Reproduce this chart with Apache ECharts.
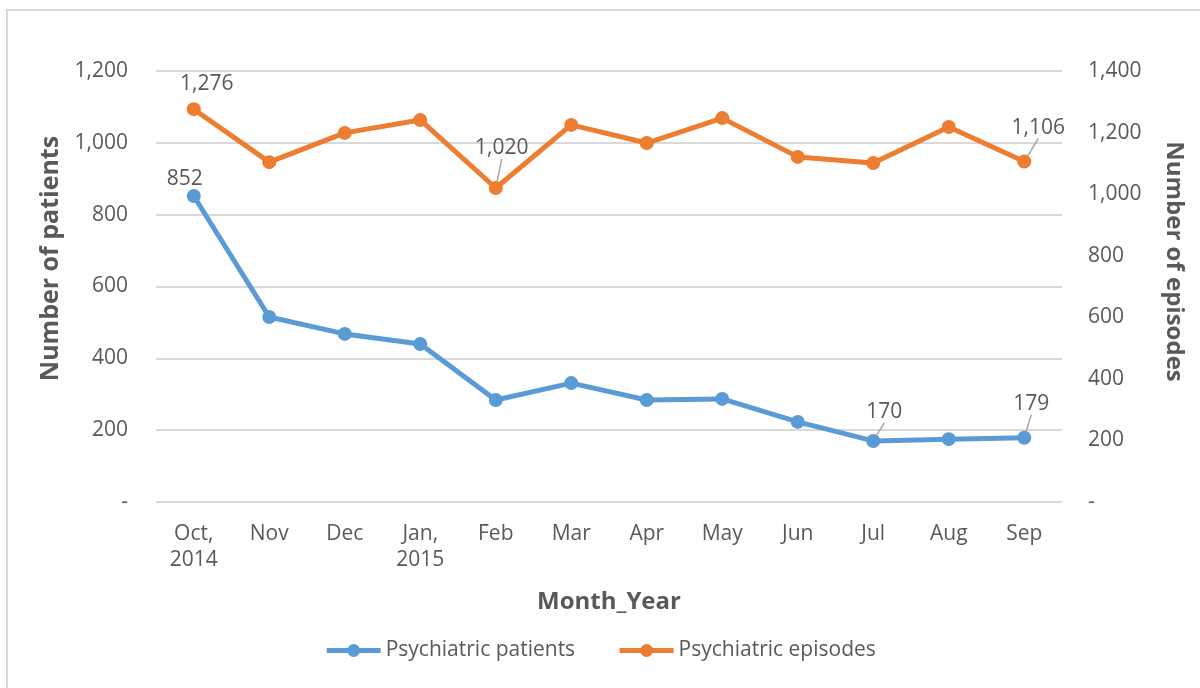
<!DOCTYPE html>
<html>
<head>
<meta charset="utf-8">
<script src="https://cdn.jsdelivr.net/npm/echarts@6/dist/echarts.min.js"></script>
<style>
  html, body { margin: 0; padding: 0; background: #fff; overflow: hidden; }
  #frame { position: absolute; left: 6px; top: 9px; width: 1300px; height: 800px; border: 2px solid #d9d9d9; box-sizing: border-box; }
  #chart { position: absolute; left: 0; top: 0; width: 1200px; height: 688px; }
</style>
</head>
<body>
<div id="frame"></div>
<div id="chart"></div>
<script>
// months
const categories = ['Oct,\n2014', 'Nov', 'Dec', 'Jan,\n2015', 'Feb', 'Mar', 'Apr', 'May', 'Jun', 'Jul', 'Aug', 'Sep'];
// values
const patients = [852, 515, 468, 440, 284, 331, 284, 287, 223, 170, 175, 179];
const episodes = [1276, 1104, 1199, 1241, 1020, 1225, 1166, 1247, 1121, 1101, 1218, 1106];
// which points carry a label: [dx, dy, leader line]
const patientLabels = { 0: [-9, 9, false], 9: [11, -3, true], 11: [7, -8, true] };
const episodeLabels = { 0: [13, 0, false], 4: [6, -14, true], 11: [14, -8, true] };

const textColor = '#595959';
const fontFamily = '"Open Sans", "Liberation Sans", sans-serif';

function fmt(v) {
    return v === 0 ? '-' : v.toLocaleString('en-US');
}

function buildData(values, labels) {
    return values.map(function (v, i) {
        const item = { value: v };
        if (labels[i]) {
            item.label = { show: true };
            item.labelLine = { show: labels[i][2] };
        }
        return item;
    });
}

function layoutFor(labels) {
    return function (params) {
        const d = labels[params.dataIndex];
        if (!d) return {};
        return { dx: d[0], dy: d[1] };
    };
}

const chart = echarts.init(document.getElementById('chart'));
chart.setOption({
    backgroundColor: 'transparent',
    textStyle: { fontFamily: fontFamily },
    grid: { left: 156, right: 138, top: 71, bottom: 186 },
    legend: {
        bottom: 22,
        left: 'center',
        itemWidth: 54,
        itemHeight: 16,
        itemGap: 42,
        lineStyle: { width: 5 },
        textStyle: { color: textColor, fontSize: 21, fontFamily: fontFamily },
        data: ['Psychiatric patients', 'Psychiatric episodes']
    },
    xAxis: {
        type: 'category',
        data: categories,
        boundaryGap: true,
        name: 'Month_Year',
        nameLocation: 'middle',
        nameGap: 88,
        nameTextStyle: { color: textColor, fontSize: 24, fontWeight: 'bold' },
        axisLine: { show: false },
        axisTick: { show: false },
        axisLabel: { color: textColor, fontSize: 21, margin: 19, lineHeight: 26, interval: 0 }
    },
    yAxis: [{
        type: 'value',
        min: 0,
        max: 1200,
        interval: 200,
        name: 'Number of patients',
        nameLocation: 'middle',
        nameGap: 93,
        nameRotate: 90,
        nameTextStyle: { color: textColor, fontSize: 25, fontWeight: 'bold', padding: [0, 0, 0, 56] },
        axisLine: { show: false },
        axisTick: { show: false },
        axisLabel: { color: textColor, fontSize: 21, margin: 28, formatter: fmt },
        splitLine: { lineStyle: { color: '#d9d9d9', width: 2 } }
    }, {
        type: 'value',
        min: 0,
        max: 1400,
        interval: 200,
        name: 'Number of episodes',
        nameLocation: 'middle',
        nameGap: 100,
        nameRotate: -90,
        nameTextStyle: { color: textColor, fontSize: 24, fontWeight: 'bold', padding: [0, 50, 0, 0] },
        axisLine: { show: false },
        axisTick: { show: false },
        axisLabel: { color: textColor, fontSize: 21, margin: 26, formatter: fmt },
        splitLine: { show: false }
    }],
    series: [{
        name: 'Psychiatric patients',
        type: 'line',
        yAxisIndex: 0,
        data: buildData(patients, patientLabels),
        symbol: 'circle',
        symbolSize: 14,
        color: '#5b9bd5',
        lineStyle: { width: 5, color: '#5b9bd5' },
        label: { show: false, position: 'top', distance: 8, color: textColor, fontSize: 21, formatter: function (p) { return fmt(p.value); } },
        labelLine: { show: true, lineStyle: { color: '#a6a6a6', width: 1.5 } },
        labelLayout: layoutFor(patientLabels),
        animation: false
    }, {
        name: 'Psychiatric episodes',
        type: 'line',
        yAxisIndex: 1,
        data: buildData(episodes, episodeLabels),
        symbol: 'circle',
        symbolSize: 14,
        color: '#ed7d31',
        lineStyle: { width: 5, color: '#ed7d31' },
        label: { show: false, position: 'top', distance: 8, color: textColor, fontSize: 21, formatter: function (p) { return fmt(p.value); } },
        labelLine: { show: true, lineStyle: { color: '#a6a6a6', width: 1.5 } },
        labelLayout: layoutFor(episodeLabels),
        animation: false
    }]
});
</script>
</body>
</html>
